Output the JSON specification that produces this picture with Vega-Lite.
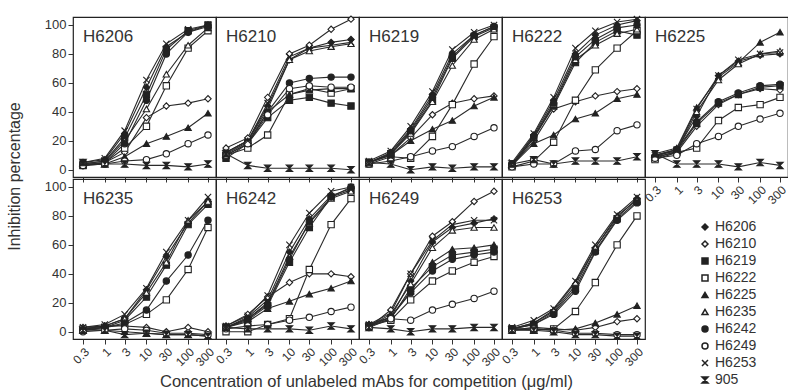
{
"$schema": "https://vega.github.io/schema/vega-lite/v6.json",
"padding": {"left": 5, "top": 13, "right": 0, "bottom": 2},
"data": {"values": [
{"p":"H6206","s":"H6206","c":0.3,"v":5},{"p":"H6206","s":"H6206","c":1,"v":7},{"p":"H6206","s":"H6206","c":3,"v":25},{"p":"H6206","s":"H6206","c":10,"v":57},{"p":"H6206","s":"H6206","c":30,"v":85},{"p":"H6206","s":"H6206","c":100,"v":95},{"p":"H6206","s":"H6206","c":300,"v":100},
{"p":"H6206","s":"H6210","c":0.3,"v":3},{"p":"H6206","s":"H6210","c":1,"v":5},{"p":"H6206","s":"H6210","c":3,"v":12},{"p":"H6206","s":"H6210","c":10,"v":36},{"p":"H6206","s":"H6210","c":30,"v":44},{"p":"H6206","s":"H6210","c":100,"v":46},{"p":"H6206","s":"H6210","c":300,"v":49},
{"p":"H6206","s":"H6219","c":0.3,"v":4},{"p":"H6206","s":"H6219","c":1,"v":6},{"p":"H6206","s":"H6219","c":3,"v":22},{"p":"H6206","s":"H6219","c":10,"v":52},{"p":"H6206","s":"H6219","c":30,"v":83},{"p":"H6206","s":"H6219","c":100,"v":96},{"p":"H6206","s":"H6219","c":300,"v":100},
{"p":"H6206","s":"H6222","c":0.3,"v":3},{"p":"H6206","s":"H6222","c":1,"v":5},{"p":"H6206","s":"H6222","c":3,"v":15},{"p":"H6206","s":"H6222","c":10,"v":30},{"p":"H6206","s":"H6222","c":30,"v":58},{"p":"H6206","s":"H6222","c":100,"v":84},{"p":"H6206","s":"H6222","c":300,"v":96},
{"p":"H6206","s":"H6225","c":0.3,"v":3},{"p":"H6206","s":"H6225","c":1,"v":4},{"p":"H6206","s":"H6225","c":3,"v":9},{"p":"H6206","s":"H6225","c":10,"v":18},{"p":"H6206","s":"H6225","c":30,"v":23},{"p":"H6206","s":"H6225","c":100,"v":29},{"p":"H6206","s":"H6225","c":300,"v":39},
{"p":"H6206","s":"H6235","c":0.3,"v":4},{"p":"H6206","s":"H6235","c":1,"v":6},{"p":"H6206","s":"H6235","c":3,"v":20},{"p":"H6206","s":"H6235","c":10,"v":42},{"p":"H6206","s":"H6235","c":30,"v":66},{"p":"H6206","s":"H6235","c":100,"v":86},{"p":"H6206","s":"H6235","c":300,"v":98},
{"p":"H6206","s":"H6242","c":0.3,"v":3},{"p":"H6206","s":"H6242","c":1,"v":5},{"p":"H6206","s":"H6242","c":3,"v":18},{"p":"H6206","s":"H6242","c":10,"v":48},{"p":"H6206","s":"H6242","c":30,"v":80},{"p":"H6206","s":"H6242","c":100,"v":95},{"p":"H6206","s":"H6242","c":300,"v":99},
{"p":"H6206","s":"H6249","c":0.3,"v":3},{"p":"H6206","s":"H6249","c":1,"v":4},{"p":"H6206","s":"H6249","c":3,"v":6},{"p":"H6206","s":"H6249","c":10,"v":7},{"p":"H6206","s":"H6249","c":30,"v":11},{"p":"H6206","s":"H6249","c":100,"v":18},{"p":"H6206","s":"H6249","c":300,"v":24},
{"p":"H6206","s":"H6253","c":0.3,"v":5},{"p":"H6206","s":"H6253","c":1,"v":8},{"p":"H6206","s":"H6253","c":3,"v":27},{"p":"H6206","s":"H6253","c":10,"v":62},{"p":"H6206","s":"H6253","c":30,"v":87},{"p":"H6206","s":"H6253","c":100,"v":97},{"p":"H6206","s":"H6253","c":300,"v":100},
{"p":"H6206","s":"905","c":0.3,"v":5},{"p":"H6206","s":"905","c":1,"v":4},{"p":"H6206","s":"905","c":3,"v":4},{"p":"H6206","s":"905","c":10,"v":3},{"p":"H6206","s":"905","c":30,"v":3},{"p":"H6206","s":"905","c":100,"v":2},{"p":"H6206","s":"905","c":300,"v":4},

{"p":"H6210","s":"H6206","c":0.3,"v":12},{"p":"H6210","s":"H6206","c":1,"v":20},{"p":"H6210","s":"H6206","c":3,"v":44},{"p":"H6210","s":"H6206","c":10,"v":76},{"p":"H6210","s":"H6206","c":30,"v":84},{"p":"H6210","s":"H6206","c":100,"v":88},{"p":"H6210","s":"H6206","c":300,"v":90},
{"p":"H6210","s":"H6210","c":0.3,"v":15},{"p":"H6210","s":"H6210","c":1,"v":22},{"p":"H6210","s":"H6210","c":3,"v":50},{"p":"H6210","s":"H6210","c":10,"v":80},{"p":"H6210","s":"H6210","c":30,"v":86},{"p":"H6210","s":"H6210","c":100,"v":97},{"p":"H6210","s":"H6210","c":300,"v":104},
{"p":"H6210","s":"H6219","c":0.3,"v":8},{"p":"H6210","s":"H6219","c":1,"v":18},{"p":"H6210","s":"H6219","c":3,"v":36},{"p":"H6210","s":"H6219","c":10,"v":48},{"p":"H6210","s":"H6219","c":30,"v":50},{"p":"H6210","s":"H6219","c":100,"v":46},{"p":"H6210","s":"H6219","c":300,"v":44},
{"p":"H6210","s":"H6222","c":0.3,"v":10},{"p":"H6210","s":"H6222","c":1,"v":15},{"p":"H6210","s":"H6222","c":3,"v":24},{"p":"H6210","s":"H6222","c":10,"v":52},{"p":"H6210","s":"H6222","c":30,"v":56},{"p":"H6210","s":"H6222","c":100,"v":53},{"p":"H6210","s":"H6222","c":300,"v":56},
{"p":"H6210","s":"H6225","c":0.3,"v":10},{"p":"H6210","s":"H6225","c":1,"v":18},{"p":"H6210","s":"H6225","c":3,"v":40},{"p":"H6210","s":"H6225","c":10,"v":52},{"p":"H6210","s":"H6225","c":30,"v":55},{"p":"H6210","s":"H6225","c":100,"v":56},{"p":"H6210","s":"H6225","c":300,"v":56},
{"p":"H6210","s":"H6235","c":0.3,"v":12},{"p":"H6210","s":"H6235","c":1,"v":20},{"p":"H6210","s":"H6235","c":3,"v":42},{"p":"H6210","s":"H6235","c":10,"v":76},{"p":"H6210","s":"H6235","c":30,"v":82},{"p":"H6210","s":"H6235","c":100,"v":85},{"p":"H6210","s":"H6235","c":300,"v":87},
{"p":"H6210","s":"H6242","c":0.3,"v":11},{"p":"H6210","s":"H6242","c":1,"v":19},{"p":"H6210","s":"H6242","c":3,"v":40},{"p":"H6210","s":"H6242","c":10,"v":60},{"p":"H6210","s":"H6242","c":30,"v":63},{"p":"H6210","s":"H6242","c":100,"v":64},{"p":"H6210","s":"H6242","c":300,"v":64},
{"p":"H6210","s":"H6249","c":0.3,"v":10},{"p":"H6210","s":"H6249","c":1,"v":18},{"p":"H6210","s":"H6249","c":3,"v":38},{"p":"H6210","s":"H6249","c":10,"v":56},{"p":"H6210","s":"H6249","c":30,"v":58},{"p":"H6210","s":"H6249","c":100,"v":57},{"p":"H6210","s":"H6249","c":300,"v":57},
{"p":"H6210","s":"H6253","c":0.3,"v":12},{"p":"H6210","s":"H6253","c":1,"v":20},{"p":"H6210","s":"H6253","c":3,"v":46},{"p":"H6210","s":"H6253","c":10,"v":78},{"p":"H6210","s":"H6253","c":30,"v":84},{"p":"H6210","s":"H6253","c":100,"v":86},{"p":"H6210","s":"H6253","c":300,"v":88},
{"p":"H6210","s":"905","c":0.3,"v":11},{"p":"H6210","s":"905","c":1,"v":3},{"p":"H6210","s":"905","c":3,"v":1},{"p":"H6210","s":"905","c":10,"v":1},{"p":"H6210","s":"905","c":30,"v":1},{"p":"H6210","s":"905","c":100,"v":1},{"p":"H6210","s":"905","c":300,"v":0},

{"p":"H6219","s":"H6206","c":0.3,"v":5},{"p":"H6219","s":"H6206","c":1,"v":12},{"p":"H6219","s":"H6206","c":3,"v":28},{"p":"H6219","s":"H6206","c":10,"v":52},{"p":"H6219","s":"H6206","c":30,"v":80},{"p":"H6219","s":"H6206","c":100,"v":93},{"p":"H6219","s":"H6206","c":300,"v":99},
{"p":"H6219","s":"H6210","c":0.3,"v":5},{"p":"H6219","s":"H6210","c":1,"v":10},{"p":"H6219","s":"H6210","c":3,"v":22},{"p":"H6219","s":"H6210","c":10,"v":38},{"p":"H6219","s":"H6210","c":30,"v":46},{"p":"H6219","s":"H6210","c":100,"v":49},{"p":"H6219","s":"H6210","c":300,"v":51},
{"p":"H6219","s":"H6219","c":0.3,"v":5},{"p":"H6219","s":"H6219","c":1,"v":11},{"p":"H6219","s":"H6219","c":3,"v":26},{"p":"H6219","s":"H6219","c":10,"v":48},{"p":"H6219","s":"H6219","c":30,"v":77},{"p":"H6219","s":"H6219","c":100,"v":92},{"p":"H6219","s":"H6219","c":300,"v":98},
{"p":"H6219","s":"H6222","c":0.3,"v":4},{"p":"H6219","s":"H6222","c":1,"v":9},{"p":"H6219","s":"H6222","c":3,"v":8},{"p":"H6219","s":"H6222","c":10,"v":23},{"p":"H6219","s":"H6222","c":30,"v":45},{"p":"H6219","s":"H6222","c":100,"v":73},{"p":"H6219","s":"H6222","c":300,"v":92},
{"p":"H6219","s":"H6225","c":0.3,"v":5},{"p":"H6219","s":"H6225","c":1,"v":10},{"p":"H6219","s":"H6225","c":3,"v":20},{"p":"H6219","s":"H6225","c":10,"v":28},{"p":"H6219","s":"H6225","c":30,"v":34},{"p":"H6219","s":"H6225","c":100,"v":44},{"p":"H6219","s":"H6225","c":300,"v":50},
{"p":"H6219","s":"H6235","c":0.3,"v":5},{"p":"H6219","s":"H6235","c":1,"v":11},{"p":"H6219","s":"H6235","c":3,"v":25},{"p":"H6219","s":"H6235","c":10,"v":47},{"p":"H6219","s":"H6235","c":30,"v":72},{"p":"H6219","s":"H6235","c":100,"v":90},{"p":"H6219","s":"H6235","c":300,"v":97},
{"p":"H6219","s":"H6242","c":0.3,"v":5},{"p":"H6219","s":"H6242","c":1,"v":11},{"p":"H6219","s":"H6242","c":3,"v":27},{"p":"H6219","s":"H6242","c":10,"v":50},{"p":"H6219","s":"H6242","c":30,"v":78},{"p":"H6219","s":"H6242","c":100,"v":93},{"p":"H6219","s":"H6242","c":300,"v":99},
{"p":"H6219","s":"H6249","c":0.3,"v":4},{"p":"H6219","s":"H6249","c":1,"v":6},{"p":"H6219","s":"H6249","c":3,"v":9},{"p":"H6219","s":"H6249","c":10,"v":13},{"p":"H6219","s":"H6249","c":30,"v":16},{"p":"H6219","s":"H6249","c":100,"v":23},{"p":"H6219","s":"H6249","c":300,"v":29},
{"p":"H6219","s":"H6253","c":0.3,"v":6},{"p":"H6219","s":"H6253","c":1,"v":13},{"p":"H6219","s":"H6253","c":3,"v":30},{"p":"H6219","s":"H6253","c":10,"v":54},{"p":"H6219","s":"H6253","c":30,"v":83},{"p":"H6219","s":"H6253","c":100,"v":95},{"p":"H6219","s":"H6253","c":300,"v":100},
{"p":"H6219","s":"905","c":0.3,"v":5},{"p":"H6219","s":"905","c":1,"v":4},{"p":"H6219","s":"905","c":3,"v":0},{"p":"H6219","s":"905","c":10,"v":2},{"p":"H6219","s":"905","c":30,"v":1},{"p":"H6219","s":"905","c":100,"v":2},{"p":"H6219","s":"905","c":300,"v":2},

{"p":"H6222","s":"H6206","c":0.3,"v":4},{"p":"H6222","s":"H6206","c":1,"v":24},{"p":"H6222","s":"H6206","c":3,"v":48},{"p":"H6222","s":"H6206","c":10,"v":80},{"p":"H6222","s":"H6206","c":30,"v":93},{"p":"H6222","s":"H6206","c":100,"v":100},{"p":"H6222","s":"H6206","c":300,"v":103},
{"p":"H6222","s":"H6210","c":0.3,"v":3},{"p":"H6222","s":"H6210","c":1,"v":20},{"p":"H6222","s":"H6210","c":3,"v":42},{"p":"H6222","s":"H6210","c":10,"v":47},{"p":"H6222","s":"H6210","c":30,"v":51},{"p":"H6222","s":"H6210","c":100,"v":54},{"p":"H6222","s":"H6210","c":300,"v":56},
{"p":"H6222","s":"H6219","c":0.3,"v":3},{"p":"H6222","s":"H6219","c":1,"v":22},{"p":"H6222","s":"H6219","c":3,"v":44},{"p":"H6222","s":"H6219","c":10,"v":74},{"p":"H6222","s":"H6219","c":30,"v":88},{"p":"H6222","s":"H6219","c":100,"v":96},{"p":"H6222","s":"H6219","c":300,"v":93},
{"p":"H6222","s":"H6222","c":0.3,"v":2},{"p":"H6222","s":"H6222","c":1,"v":6},{"p":"H6222","s":"H6222","c":3,"v":19},{"p":"H6222","s":"H6222","c":10,"v":48},{"p":"H6222","s":"H6222","c":30,"v":69},{"p":"H6222","s":"H6222","c":100,"v":84},{"p":"H6222","s":"H6222","c":300,"v":96},
{"p":"H6222","s":"H6225","c":0.3,"v":3},{"p":"H6222","s":"H6225","c":1,"v":18},{"p":"H6222","s":"H6225","c":3,"v":24},{"p":"H6222","s":"H6225","c":10,"v":35},{"p":"H6222","s":"H6225","c":30,"v":39},{"p":"H6222","s":"H6225","c":100,"v":49},{"p":"H6222","s":"H6225","c":300,"v":52},
{"p":"H6222","s":"H6235","c":0.3,"v":3},{"p":"H6222","s":"H6235","c":1,"v":22},{"p":"H6222","s":"H6235","c":3,"v":45},{"p":"H6222","s":"H6235","c":10,"v":76},{"p":"H6222","s":"H6235","c":30,"v":86},{"p":"H6222","s":"H6235","c":100,"v":94},{"p":"H6222","s":"H6235","c":300,"v":97},
{"p":"H6222","s":"H6242","c":0.3,"v":4},{"p":"H6222","s":"H6242","c":1,"v":23},{"p":"H6222","s":"H6242","c":3,"v":46},{"p":"H6222","s":"H6242","c":10,"v":78},{"p":"H6222","s":"H6242","c":30,"v":90},{"p":"H6222","s":"H6242","c":100,"v":98},{"p":"H6222","s":"H6242","c":300,"v":100},
{"p":"H6222","s":"H6249","c":0.3,"v":2},{"p":"H6222","s":"H6249","c":1,"v":4},{"p":"H6222","s":"H6249","c":3,"v":4},{"p":"H6222","s":"H6249","c":10,"v":13},{"p":"H6222","s":"H6249","c":30,"v":14},{"p":"H6222","s":"H6249","c":100,"v":27},{"p":"H6222","s":"H6249","c":300,"v":31},
{"p":"H6222","s":"H6253","c":0.3,"v":5},{"p":"H6222","s":"H6253","c":1,"v":25},{"p":"H6222","s":"H6253","c":3,"v":50},{"p":"H6222","s":"H6253","c":10,"v":84},{"p":"H6222","s":"H6253","c":30,"v":96},{"p":"H6222","s":"H6253","c":100,"v":102},{"p":"H6222","s":"H6253","c":300,"v":104},
{"p":"H6222","s":"905","c":0.3,"v":4},{"p":"H6222","s":"905","c":1,"v":7},{"p":"H6222","s":"905","c":3,"v":4},{"p":"H6222","s":"905","c":10,"v":6},{"p":"H6222","s":"905","c":30,"v":6},{"p":"H6222","s":"905","c":100,"v":6},{"p":"H6222","s":"905","c":300,"v":9},

{"p":"H6225","s":"H6206","c":0.3,"v":10},{"p":"H6225","s":"H6206","c":1,"v":14},{"p":"H6225","s":"H6206","c":3,"v":37},{"p":"H6225","s":"H6206","c":10,"v":65},{"p":"H6225","s":"H6206","c":30,"v":75},{"p":"H6225","s":"H6206","c":100,"v":79},{"p":"H6225","s":"H6206","c":300,"v":80},
{"p":"H6225","s":"H6210","c":0.3,"v":9},{"p":"H6225","s":"H6210","c":1,"v":12},{"p":"H6225","s":"H6210","c":3,"v":30},{"p":"H6225","s":"H6210","c":10,"v":45},{"p":"H6225","s":"H6210","c":30,"v":52},{"p":"H6225","s":"H6210","c":100,"v":56},{"p":"H6225","s":"H6210","c":300,"v":55},
{"p":"H6225","s":"H6219","c":0.3,"v":8},{"p":"H6225","s":"H6219","c":1,"v":13},{"p":"H6225","s":"H6219","c":3,"v":32},{"p":"H6225","s":"H6219","c":10,"v":46},{"p":"H6225","s":"H6219","c":30,"v":52},{"p":"H6225","s":"H6219","c":100,"v":57},{"p":"H6225","s":"H6219","c":300,"v":58},
{"p":"H6225","s":"H6222","c":0.3,"v":7},{"p":"H6225","s":"H6222","c":1,"v":12},{"p":"H6225","s":"H6222","c":3,"v":15},{"p":"H6225","s":"H6222","c":10,"v":34},{"p":"H6225","s":"H6222","c":30,"v":43},{"p":"H6225","s":"H6222","c":100,"v":45},{"p":"H6225","s":"H6222","c":300,"v":50},
{"p":"H6225","s":"H6225","c":0.3,"v":11},{"p":"H6225","s":"H6225","c":1,"v":15},{"p":"H6225","s":"H6225","c":3,"v":43},{"p":"H6225","s":"H6225","c":10,"v":64},{"p":"H6225","s":"H6225","c":30,"v":74},{"p":"H6225","s":"H6225","c":100,"v":88},{"p":"H6225","s":"H6225","c":300,"v":95},
{"p":"H6225","s":"H6235","c":0.3,"v":10},{"p":"H6225","s":"H6235","c":1,"v":13},{"p":"H6225","s":"H6235","c":3,"v":40},{"p":"H6225","s":"H6235","c":10,"v":62},{"p":"H6225","s":"H6235","c":30,"v":73},{"p":"H6225","s":"H6235","c":100,"v":80},{"p":"H6225","s":"H6235","c":300,"v":82},
{"p":"H6225","s":"H6242","c":0.3,"v":9},{"p":"H6225","s":"H6242","c":1,"v":14},{"p":"H6225","s":"H6242","c":3,"v":33},{"p":"H6225","s":"H6242","c":10,"v":47},{"p":"H6225","s":"H6242","c":30,"v":53},{"p":"H6225","s":"H6242","c":100,"v":58},{"p":"H6225","s":"H6242","c":300,"v":59},
{"p":"H6225","s":"H6249","c":0.3,"v":8},{"p":"H6225","s":"H6249","c":1,"v":10},{"p":"H6225","s":"H6249","c":3,"v":18},{"p":"H6225","s":"H6249","c":10,"v":23},{"p":"H6225","s":"H6249","c":30,"v":30},{"p":"H6225","s":"H6249","c":100,"v":35},{"p":"H6225","s":"H6249","c":300,"v":39},
{"p":"H6225","s":"H6253","c":0.3,"v":10},{"p":"H6225","s":"H6253","c":1,"v":14},{"p":"H6225","s":"H6253","c":3,"v":42},{"p":"H6225","s":"H6253","c":10,"v":65},{"p":"H6225","s":"H6253","c":30,"v":76},{"p":"H6225","s":"H6253","c":100,"v":80},{"p":"H6225","s":"H6253","c":300,"v":81},
{"p":"H6225","s":"905","c":0.3,"v":11},{"p":"H6225","s":"905","c":1,"v":4},{"p":"H6225","s":"905","c":3,"v":4},{"p":"H6225","s":"905","c":10,"v":4},{"p":"H6225","s":"905","c":30,"v":2},{"p":"H6225","s":"905","c":100,"v":5},{"p":"H6225","s":"905","c":300,"v":3},

{"p":"H6235","s":"H6206","c":0.3,"v":2},{"p":"H6235","s":"H6206","c":1,"v":4},{"p":"H6235","s":"H6206","c":3,"v":9},{"p":"H6235","s":"H6206","c":10,"v":29},{"p":"H6235","s":"H6206","c":30,"v":52},{"p":"H6235","s":"H6206","c":100,"v":75},{"p":"H6235","s":"H6206","c":300,"v":90},
{"p":"H6235","s":"H6210","c":0.3,"v":3},{"p":"H6235","s":"H6210","c":1,"v":4},{"p":"H6235","s":"H6210","c":3,"v":4},{"p":"H6235","s":"H6210","c":10,"v":3},{"p":"H6235","s":"H6210","c":30,"v":0},{"p":"H6235","s":"H6210","c":100,"v":3},{"p":"H6235","s":"H6210","c":300,"v":0},
{"p":"H6235","s":"H6219","c":0.3,"v":1},{"p":"H6235","s":"H6219","c":1,"v":3},{"p":"H6235","s":"H6219","c":3,"v":8},{"p":"H6235","s":"H6219","c":10,"v":24},{"p":"H6235","s":"H6219","c":30,"v":46},{"p":"H6235","s":"H6219","c":100,"v":74},{"p":"H6235","s":"H6219","c":300,"v":88},
{"p":"H6235","s":"H6222","c":0.3,"v":2},{"p":"H6235","s":"H6222","c":1,"v":3},{"p":"H6235","s":"H6222","c":3,"v":5},{"p":"H6235","s":"H6222","c":10,"v":12},{"p":"H6235","s":"H6222","c":30,"v":22},{"p":"H6235","s":"H6222","c":100,"v":43},{"p":"H6235","s":"H6222","c":300,"v":72},
{"p":"H6235","s":"H6225","c":0.3,"v":2},{"p":"H6235","s":"H6225","c":1,"v":1},{"p":"H6235","s":"H6225","c":3,"v":0},{"p":"H6235","s":"H6225","c":10,"v":-1},{"p":"H6235","s":"H6225","c":30,"v":-2},{"p":"H6235","s":"H6225","c":100,"v":-2},{"p":"H6235","s":"H6225","c":300,"v":-3},
{"p":"H6235","s":"H6235","c":0.3,"v":2},{"p":"H6235","s":"H6235","c":1,"v":4},{"p":"H6235","s":"H6235","c":3,"v":9},{"p":"H6235","s":"H6235","c":10,"v":27},{"p":"H6235","s":"H6235","c":30,"v":48},{"p":"H6235","s":"H6235","c":100,"v":77},{"p":"H6235","s":"H6235","c":300,"v":90},
{"p":"H6235","s":"H6242","c":0.3,"v":1},{"p":"H6235","s":"H6242","c":1,"v":3},{"p":"H6235","s":"H6242","c":3,"v":6},{"p":"H6235","s":"H6242","c":10,"v":15},{"p":"H6235","s":"H6242","c":30,"v":35},{"p":"H6235","s":"H6242","c":100,"v":53},{"p":"H6235","s":"H6242","c":300,"v":77},
{"p":"H6235","s":"H6249","c":0.3,"v":0},{"p":"H6235","s":"H6249","c":1,"v":1},{"p":"H6235","s":"H6249","c":3,"v":2},{"p":"H6235","s":"H6249","c":10,"v":1},{"p":"H6235","s":"H6249","c":30,"v":-1},{"p":"H6235","s":"H6249","c":100,"v":-1},{"p":"H6235","s":"H6249","c":300,"v":-2},
{"p":"H6235","s":"H6253","c":0.3,"v":3},{"p":"H6235","s":"H6253","c":1,"v":5},{"p":"H6235","s":"H6253","c":3,"v":12},{"p":"H6235","s":"H6253","c":10,"v":30},{"p":"H6235","s":"H6253","c":30,"v":55},{"p":"H6235","s":"H6253","c":100,"v":77},{"p":"H6235","s":"H6253","c":300,"v":93},
{"p":"H6235","s":"905","c":0.3,"v":1},{"p":"H6235","s":"905","c":1,"v":1},{"p":"H6235","s":"905","c":3,"v":-2},{"p":"H6235","s":"905","c":10,"v":-1},{"p":"H6235","s":"905","c":30,"v":-2},{"p":"H6235","s":"905","c":100,"v":-2},{"p":"H6235","s":"905","c":300,"v":-3},

{"p":"H6242","s":"H6206","c":0.3,"v":3},{"p":"H6242","s":"H6206","c":1,"v":10},{"p":"H6242","s":"H6206","c":3,"v":22},{"p":"H6242","s":"H6206","c":10,"v":55},{"p":"H6242","s":"H6206","c":30,"v":78},{"p":"H6242","s":"H6206","c":100,"v":94},{"p":"H6242","s":"H6206","c":300,"v":99},
{"p":"H6242","s":"H6210","c":0.3,"v":4},{"p":"H6242","s":"H6210","c":1,"v":12},{"p":"H6242","s":"H6210","c":3,"v":24},{"p":"H6242","s":"H6210","c":10,"v":34},{"p":"H6242","s":"H6210","c":30,"v":40},{"p":"H6242","s":"H6210","c":100,"v":40},{"p":"H6242","s":"H6210","c":300,"v":38},
{"p":"H6242","s":"H6219","c":0.3,"v":3},{"p":"H6242","s":"H6219","c":1,"v":8},{"p":"H6242","s":"H6219","c":3,"v":18},{"p":"H6242","s":"H6219","c":10,"v":48},{"p":"H6242","s":"H6219","c":30,"v":72},{"p":"H6242","s":"H6219","c":100,"v":93},{"p":"H6242","s":"H6219","c":300,"v":98},
{"p":"H6242","s":"H6222","c":0.3,"v":0},{"p":"H6242","s":"H6222","c":1,"v":0},{"p":"H6242","s":"H6222","c":3,"v":5},{"p":"H6242","s":"H6222","c":10,"v":9},{"p":"H6242","s":"H6222","c":30,"v":43},{"p":"H6242","s":"H6222","c":100,"v":74},{"p":"H6242","s":"H6222","c":300,"v":92},
{"p":"H6242","s":"H6225","c":0.3,"v":3},{"p":"H6242","s":"H6225","c":1,"v":7},{"p":"H6242","s":"H6225","c":3,"v":16},{"p":"H6242","s":"H6225","c":10,"v":21},{"p":"H6242","s":"H6225","c":30,"v":26},{"p":"H6242","s":"H6225","c":100,"v":30},{"p":"H6242","s":"H6225","c":300,"v":35},
{"p":"H6242","s":"H6235","c":0.3,"v":3},{"p":"H6242","s":"H6235","c":1,"v":9},{"p":"H6242","s":"H6235","c":3,"v":20},{"p":"H6242","s":"H6235","c":10,"v":52},{"p":"H6242","s":"H6235","c":30,"v":75},{"p":"H6242","s":"H6235","c":100,"v":92},{"p":"H6242","s":"H6235","c":300,"v":97},
{"p":"H6242","s":"H6242","c":0.3,"v":3},{"p":"H6242","s":"H6242","c":1,"v":9},{"p":"H6242","s":"H6242","c":3,"v":19},{"p":"H6242","s":"H6242","c":10,"v":50},{"p":"H6242","s":"H6242","c":30,"v":76},{"p":"H6242","s":"H6242","c":100,"v":93},{"p":"H6242","s":"H6242","c":300,"v":100},
{"p":"H6242","s":"H6249","c":0.3,"v":2},{"p":"H6242","s":"H6249","c":1,"v":4},{"p":"H6242","s":"H6249","c":3,"v":5},{"p":"H6242","s":"H6249","c":10,"v":8},{"p":"H6242","s":"H6249","c":30,"v":10},{"p":"H6242","s":"H6249","c":100,"v":14},{"p":"H6242","s":"H6249","c":300,"v":17},
{"p":"H6242","s":"H6253","c":0.3,"v":4},{"p":"H6242","s":"H6253","c":1,"v":11},{"p":"H6242","s":"H6253","c":3,"v":25},{"p":"H6242","s":"H6253","c":10,"v":60},{"p":"H6242","s":"H6253","c":30,"v":82},{"p":"H6242","s":"H6253","c":100,"v":97},{"p":"H6242","s":"H6253","c":300,"v":100},
{"p":"H6242","s":"905","c":0.3,"v":3},{"p":"H6242","s":"905","c":1,"v":2},{"p":"H6242","s":"905","c":3,"v":2},{"p":"H6242","s":"905","c":10,"v":2},{"p":"H6242","s":"905","c":30,"v":1},{"p":"H6242","s":"905","c":100,"v":4},{"p":"H6242","s":"905","c":300,"v":2},

{"p":"H6249","s":"H6206","c":0.3,"v":5},{"p":"H6249","s":"H6206","c":1,"v":10},{"p":"H6249","s":"H6206","c":3,"v":35},{"p":"H6249","s":"H6206","c":10,"v":62},{"p":"H6249","s":"H6206","c":30,"v":72},{"p":"H6249","s":"H6206","c":100,"v":75},{"p":"H6249","s":"H6206","c":300,"v":78},
{"p":"H6249","s":"H6210","c":0.3,"v":3},{"p":"H6249","s":"H6210","c":1,"v":15},{"p":"H6249","s":"H6210","c":3,"v":40},{"p":"H6249","s":"H6210","c":10,"v":66},{"p":"H6249","s":"H6210","c":30,"v":76},{"p":"H6249","s":"H6210","c":100,"v":90},{"p":"H6249","s":"H6210","c":300,"v":97},
{"p":"H6249","s":"H6219","c":0.3,"v":4},{"p":"H6249","s":"H6219","c":1,"v":9},{"p":"H6249","s":"H6219","c":3,"v":30},{"p":"H6249","s":"H6219","c":10,"v":45},{"p":"H6249","s":"H6219","c":30,"v":53},{"p":"H6249","s":"H6219","c":100,"v":55},{"p":"H6249","s":"H6219","c":300,"v":57},
{"p":"H6249","s":"H6222","c":0.3,"v":4},{"p":"H6249","s":"H6222","c":1,"v":8},{"p":"H6249","s":"H6222","c":3,"v":22},{"p":"H6249","s":"H6222","c":10,"v":35},{"p":"H6249","s":"H6222","c":30,"v":42},{"p":"H6249","s":"H6222","c":100,"v":48},{"p":"H6249","s":"H6222","c":300,"v":52},
{"p":"H6249","s":"H6225","c":0.3,"v":5},{"p":"H6249","s":"H6225","c":1,"v":10},{"p":"H6249","s":"H6225","c":3,"v":28},{"p":"H6249","s":"H6225","c":10,"v":48},{"p":"H6249","s":"H6225","c":30,"v":57},{"p":"H6249","s":"H6225","c":100,"v":58},{"p":"H6249","s":"H6225","c":300,"v":60},
{"p":"H6249","s":"H6235","c":0.3,"v":4},{"p":"H6249","s":"H6235","c":1,"v":12},{"p":"H6249","s":"H6235","c":3,"v":33},{"p":"H6249","s":"H6235","c":10,"v":58},{"p":"H6249","s":"H6235","c":30,"v":70},{"p":"H6249","s":"H6235","c":100,"v":72},{"p":"H6249","s":"H6235","c":300,"v":72},
{"p":"H6249","s":"H6242","c":0.3,"v":4},{"p":"H6249","s":"H6242","c":1,"v":10},{"p":"H6249","s":"H6242","c":3,"v":27},{"p":"H6249","s":"H6242","c":10,"v":42},{"p":"H6249","s":"H6242","c":30,"v":50},{"p":"H6249","s":"H6242","c":100,"v":53},{"p":"H6249","s":"H6242","c":300,"v":55},
{"p":"H6249","s":"H6249","c":0.3,"v":3},{"p":"H6249","s":"H6249","c":1,"v":9},{"p":"H6249","s":"H6249","c":3,"v":8},{"p":"H6249","s":"H6249","c":10,"v":15},{"p":"H6249","s":"H6249","c":30,"v":19},{"p":"H6249","s":"H6249","c":100,"v":23},{"p":"H6249","s":"H6249","c":300,"v":28},
{"p":"H6249","s":"H6253","c":0.3,"v":5},{"p":"H6249","s":"H6253","c":1,"v":13},{"p":"H6249","s":"H6253","c":3,"v":40},{"p":"H6249","s":"H6253","c":10,"v":63},{"p":"H6249","s":"H6253","c":30,"v":74},{"p":"H6249","s":"H6253","c":100,"v":77},{"p":"H6249","s":"H6253","c":300,"v":77},
{"p":"H6249","s":"905","c":0.3,"v":3},{"p":"H6249","s":"905","c":1,"v":2},{"p":"H6249","s":"905","c":3,"v":0},{"p":"H6249","s":"905","c":10,"v":2},{"p":"H6249","s":"905","c":30,"v":2},{"p":"H6249","s":"905","c":100,"v":3},{"p":"H6249","s":"905","c":300,"v":3},

{"p":"H6253","s":"H6206","c":0.3,"v":2},{"p":"H6253","s":"H6206","c":1,"v":6},{"p":"H6253","s":"H6206","c":3,"v":14},{"p":"H6253","s":"H6206","c":10,"v":32},{"p":"H6253","s":"H6206","c":30,"v":58},{"p":"H6253","s":"H6206","c":100,"v":79},{"p":"H6253","s":"H6206","c":300,"v":92},
{"p":"H6253","s":"H6210","c":0.3,"v":1},{"p":"H6253","s":"H6210","c":1,"v":3},{"p":"H6253","s":"H6210","c":3,"v":2},{"p":"H6253","s":"H6210","c":10,"v":1},{"p":"H6253","s":"H6210","c":30,"v":3},{"p":"H6253","s":"H6210","c":100,"v":7},{"p":"H6253","s":"H6210","c":300,"v":9},
{"p":"H6253","s":"H6219","c":0.3,"v":2},{"p":"H6253","s":"H6219","c":1,"v":5},{"p":"H6253","s":"H6219","c":3,"v":13},{"p":"H6253","s":"H6219","c":10,"v":30},{"p":"H6253","s":"H6219","c":30,"v":56},{"p":"H6253","s":"H6219","c":100,"v":78},{"p":"H6253","s":"H6219","c":300,"v":90},
{"p":"H6253","s":"H6222","c":0.3,"v":2},{"p":"H6253","s":"H6222","c":1,"v":1},{"p":"H6253","s":"H6222","c":3,"v":2},{"p":"H6253","s":"H6222","c":10,"v":14},{"p":"H6253","s":"H6222","c":30,"v":34},{"p":"H6253","s":"H6222","c":100,"v":60},{"p":"H6253","s":"H6222","c":300,"v":80},
{"p":"H6253","s":"H6225","c":0.3,"v":2},{"p":"H6253","s":"H6225","c":1,"v":2},{"p":"H6253","s":"H6225","c":3,"v":1},{"p":"H6253","s":"H6225","c":10,"v":2},{"p":"H6253","s":"H6225","c":30,"v":6},{"p":"H6253","s":"H6225","c":100,"v":12},{"p":"H6253","s":"H6225","c":300,"v":18},
{"p":"H6253","s":"H6235","c":0.3,"v":2},{"p":"H6253","s":"H6235","c":1,"v":6},{"p":"H6253","s":"H6235","c":3,"v":15},{"p":"H6253","s":"H6235","c":10,"v":34},{"p":"H6253","s":"H6235","c":30,"v":58},{"p":"H6253","s":"H6235","c":100,"v":80},{"p":"H6253","s":"H6235","c":300,"v":91},
{"p":"H6253","s":"H6242","c":0.3,"v":2},{"p":"H6253","s":"H6242","c":1,"v":5},{"p":"H6253","s":"H6242","c":3,"v":12},{"p":"H6253","s":"H6242","c":10,"v":28},{"p":"H6253","s":"H6242","c":30,"v":55},{"p":"H6253","s":"H6242","c":100,"v":77},{"p":"H6253","s":"H6242","c":300,"v":89},
{"p":"H6253","s":"H6249","c":0.3,"v":1},{"p":"H6253","s":"H6249","c":1,"v":2},{"p":"H6253","s":"H6249","c":3,"v":1},{"p":"H6253","s":"H6249","c":10,"v":-1},{"p":"H6253","s":"H6249","c":30,"v":-1},{"p":"H6253","s":"H6249","c":100,"v":-2},{"p":"H6253","s":"H6249","c":300,"v":-2},
{"p":"H6253","s":"H6253","c":0.3,"v":3},{"p":"H6253","s":"H6253","c":1,"v":8},{"p":"H6253","s":"H6253","c":3,"v":16},{"p":"H6253","s":"H6253","c":10,"v":35},{"p":"H6253","s":"H6253","c":30,"v":60},{"p":"H6253","s":"H6253","c":100,"v":81},{"p":"H6253","s":"H6253","c":300,"v":93},
{"p":"H6253","s":"905","c":0.3,"v":1},{"p":"H6253","s":"905","c":1,"v":1},{"p":"H6253","s":"905","c":3,"v":0},{"p":"H6253","s":"905","c":10,"v":-2},{"p":"H6253","s":"905","c":30,"v":-2},{"p":"H6253","s":"905","c":100,"v":-3},{"p":"H6253","s":"905","c":300,"v":-3}
]},
"columns": 5,
"spacing": {"row": 2, "column": 0},
"bounds": "flush",
"resolve": {"scale": {"x": "shared", "y": "shared", "shape": "shared", "fill": "shared"}},
"concat": [
 {"width": 143, "height": 160, "transform": [{"filter": "datum.p == 'H6206'"}],
  "encoding": {
    "x": {"field": "c", "type": "quantitative", "scale": {"type": "log", "domain": [0.1726, 467], "nice": false}, "axis": {"values": [0.3,1,3,10,30,100,300], "labels": false, "title": null}},
    "y": {"field": "v", "type": "quantitative", "scale": {"domain": [-5, 105.5], "nice": false, "zero": false}, "axis": {"values": [0,20,40,60,80,100], "title": "Inhibition percentage", "titleY": 159, "titlePadding": 22, "titleFontSize": 16}}},
  "layer": [
    {"mark": {"type": "line", "color": "#2a2a2a", "strokeWidth": 1.1}, "encoding": {"detail": {"field": "s"}}},
    {"mark": {"type": "point", "stroke": "#222", "strokeWidth": 1.1, "size": 40, "opacity": 1},
     "encoding": {
       "shape": {"field": "s", "type": "nominal", "title": null, "scale": {"domain": ["H6206","H6210","H6219","H6222","H6225","H6235","H6242","H6249","H6253","905"], "range": ["diamond","diamond","square","square","triangle-up","triangle-up","circle","circle","M-1,-1L1,1M-1,1L1,-1","M-1,-1L1,-1L-1,1L1,1Z"]},
         "legend": {"encode": {"symbols": {"update": {"stroke": {"value": "#222"}, "strokeWidth": {"value": 1}}}}}},
       "fill": {"field": "s", "type": "nominal", "title": null, "scale": {"domain": ["H6206","H6210","H6219","H6222","H6225","H6235","H6242","H6249","H6253","905"], "range": ["#222","white","#222","white","#222","white","#222","white","#222","#222"]},
         "legend": {"encode": {"symbols": {"update": {"stroke": {"value": "#222"}, "strokeWidth": {"value": 1}}}}}}}},
    {"transform": [{"filter": "datum.s == datum.p && datum.c == 0.3"}], "mark": {"type": "text", "align": "left", "baseline": "alphabetic", "fontSize": 17, "color": "#333"},
     "encoding": {"text": {"field": "p"}, "x": {"datum": 0.3}, "y": {"datum": 88}}}]},
 {"width": 143, "height": 160, "transform": [{"filter": "datum.p == 'H6210'"}],
  "encoding": {
    "x": {"field": "c", "type": "quantitative", "scale": {"type": "log", "domain": [0.1726, 467], "nice": false}, "axis": {"values": [0.3,1,3,10,30,100,300], "labels": false, "title": null}},
    "y": {"field": "v", "type": "quantitative", "scale": {"domain": [-5, 105.5], "nice": false, "zero": false}, "axis": null}},
  "layer": [
    {"mark": {"type": "line", "color": "#2a2a2a", "strokeWidth": 1.1}, "encoding": {"detail": {"field": "s"}}},
    {"mark": {"type": "point", "stroke": "#222", "strokeWidth": 1.1, "size": 40, "opacity": 1},
     "encoding": {"shape": {"field": "s", "type": "nominal", "title": null}, "fill": {"field": "s", "type": "nominal", "title": null}}},
    {"transform": [{"filter": "datum.s == datum.p && datum.c == 0.3"}], "mark": {"type": "text", "align": "left", "baseline": "alphabetic", "fontSize": 17, "color": "#333"},
     "encoding": {"text": {"field": "p"}, "x": {"datum": 0.3}, "y": {"datum": 88}}}]},
 {"width": 143, "height": 160, "transform": [{"filter": "datum.p == 'H6219'"}],
  "encoding": {
    "x": {"field": "c", "type": "quantitative", "scale": {"type": "log", "domain": [0.1726, 467], "nice": false}, "axis": {"values": [0.3,1,3,10,30,100,300], "labels": false, "title": null}},
    "y": {"field": "v", "type": "quantitative", "scale": {"domain": [-5, 105.5], "nice": false, "zero": false}, "axis": null}},
  "layer": [
    {"mark": {"type": "line", "color": "#2a2a2a", "strokeWidth": 1.1}, "encoding": {"detail": {"field": "s"}}},
    {"mark": {"type": "point", "stroke": "#222", "strokeWidth": 1.1, "size": 40, "opacity": 1},
     "encoding": {"shape": {"field": "s", "type": "nominal", "title": null}, "fill": {"field": "s", "type": "nominal", "title": null}}},
    {"transform": [{"filter": "datum.s == datum.p && datum.c == 0.3"}], "mark": {"type": "text", "align": "left", "baseline": "alphabetic", "fontSize": 17, "color": "#333"},
     "encoding": {"text": {"field": "p"}, "x": {"datum": 0.3}, "y": {"datum": 88}}}]},
 {"width": 143, "height": 160, "transform": [{"filter": "datum.p == 'H6222'"}],
  "encoding": {
    "x": {"field": "c", "type": "quantitative", "scale": {"type": "log", "domain": [0.1726, 467], "nice": false}, "axis": {"values": [0.3,1,3,10,30,100,300], "labels": false, "title": null}},
    "y": {"field": "v", "type": "quantitative", "scale": {"domain": [-5, 105.5], "nice": false, "zero": false}, "axis": null}},
  "layer": [
    {"mark": {"type": "line", "color": "#2a2a2a", "strokeWidth": 1.1}, "encoding": {"detail": {"field": "s"}}},
    {"mark": {"type": "point", "stroke": "#222", "strokeWidth": 1.1, "size": 40, "opacity": 1},
     "encoding": {"shape": {"field": "s", "type": "nominal", "title": null}, "fill": {"field": "s", "type": "nominal", "title": null}}},
    {"transform": [{"filter": "datum.s == datum.p && datum.c == 0.3"}], "mark": {"type": "text", "align": "left", "baseline": "alphabetic", "fontSize": 17, "color": "#333"},
     "encoding": {"text": {"field": "p"}, "x": {"datum": 0.3}, "y": {"datum": 88}}}]},
 {"width": 143, "height": 160, "transform": [{"filter": "datum.p == 'H6225'"}],
  "encoding": {
    "x": {"field": "c", "type": "quantitative", "scale": {"type": "log", "domain": [0.1726, 467], "nice": false}, "axis": {"values": [0.3,1,3,10,30,100,300], "title": null}},
    "y": {"field": "v", "type": "quantitative", "scale": {"domain": [-5, 105.5], "nice": false, "zero": false}, "axis": null}},
  "layer": [
    {"mark": {"type": "line", "color": "#2a2a2a", "strokeWidth": 1.1}, "encoding": {"detail": {"field": "s"}}},
    {"mark": {"type": "point", "stroke": "#222", "strokeWidth": 1.1, "size": 40, "opacity": 1},
     "encoding": {"shape": {"field": "s", "type": "nominal", "title": null}, "fill": {"field": "s", "type": "nominal", "title": null}}},
    {"transform": [{"filter": "datum.s == datum.p && datum.c == 0.3"}], "mark": {"type": "text", "align": "left", "baseline": "alphabetic", "fontSize": 17, "color": "#333"},
     "encoding": {"text": {"field": "p"}, "x": {"datum": 0.3}, "y": {"datum": 88}}}]},
 {"width": 143, "height": 160, "transform": [{"filter": "datum.p == 'H6235'"}],
  "encoding": {
    "x": {"field": "c", "type": "quantitative", "scale": {"type": "log", "domain": [0.1726, 467], "nice": false}, "axis": {"values": [0.3,1,3,10,30,100,300], "title": null}},
    "y": {"field": "v", "type": "quantitative", "scale": {"domain": [-5, 105.5], "nice": false, "zero": false}, "axis": {"values": [0,20,40,60,80,100], "title": null}}},
  "layer": [
    {"mark": {"type": "line", "color": "#2a2a2a", "strokeWidth": 1.1}, "encoding": {"detail": {"field": "s"}}},
    {"mark": {"type": "point", "stroke": "#222", "strokeWidth": 1.1, "size": 40, "opacity": 1},
     "encoding": {"shape": {"field": "s", "type": "nominal", "title": null}, "fill": {"field": "s", "type": "nominal", "title": null}}},
    {"transform": [{"filter": "datum.s == datum.p && datum.c == 0.3"}], "mark": {"type": "text", "align": "left", "baseline": "alphabetic", "fontSize": 17, "color": "#333"},
     "encoding": {"text": {"field": "p"}, "x": {"datum": 0.3}, "y": {"datum": 88}}}]},
 {"width": 143, "height": 160, "transform": [{"filter": "datum.p == 'H6242'"}],
  "encoding": {
    "x": {"field": "c", "type": "quantitative", "scale": {"type": "log", "domain": [0.1726, 467], "nice": false}, "axis": {"values": [0.3,1,3,10,30,100,300], "title": "Concentration of unlabeled mAbs for competition (μg/ml)", "titleX": 150, "titlePadding": 6, "titleFontSize": 16.5}},
    "y": {"field": "v", "type": "quantitative", "scale": {"domain": [-5, 105.5], "nice": false, "zero": false}, "axis": null}},
  "layer": [
    {"mark": {"type": "line", "color": "#2a2a2a", "strokeWidth": 1.1}, "encoding": {"detail": {"field": "s"}}},
    {"mark": {"type": "point", "stroke": "#222", "strokeWidth": 1.1, "size": 40, "opacity": 1},
     "encoding": {"shape": {"field": "s", "type": "nominal", "title": null}, "fill": {"field": "s", "type": "nominal", "title": null}}},
    {"transform": [{"filter": "datum.s == datum.p && datum.c == 0.3"}], "mark": {"type": "text", "align": "left", "baseline": "alphabetic", "fontSize": 17, "color": "#333"},
     "encoding": {"text": {"field": "p"}, "x": {"datum": 0.3}, "y": {"datum": 88}}}]},
 {"width": 143, "height": 160, "transform": [{"filter": "datum.p == 'H6249'"}],
  "encoding": {
    "x": {"field": "c", "type": "quantitative", "scale": {"type": "log", "domain": [0.1726, 467], "nice": false}, "axis": {"values": [0.3,1,3,10,30,100,300], "title": null}},
    "y": {"field": "v", "type": "quantitative", "scale": {"domain": [-5, 105.5], "nice": false, "zero": false}, "axis": null}},
  "layer": [
    {"mark": {"type": "line", "color": "#2a2a2a", "strokeWidth": 1.1}, "encoding": {"detail": {"field": "s"}}},
    {"mark": {"type": "point", "stroke": "#222", "strokeWidth": 1.1, "size": 40, "opacity": 1},
     "encoding": {"shape": {"field": "s", "type": "nominal", "title": null}, "fill": {"field": "s", "type": "nominal", "title": null}}},
    {"transform": [{"filter": "datum.s == datum.p && datum.c == 0.3"}], "mark": {"type": "text", "align": "left", "baseline": "alphabetic", "fontSize": 17, "color": "#333"},
     "encoding": {"text": {"field": "p"}, "x": {"datum": 0.3}, "y": {"datum": 88}}}]},
 {"width": 143, "height": 160, "transform": [{"filter": "datum.p == 'H6253'"}],
  "encoding": {
    "x": {"field": "c", "type": "quantitative", "scale": {"type": "log", "domain": [0.1726, 467], "nice": false}, "axis": {"values": [0.3,1,3,10,30,100,300], "title": null}},
    "y": {"field": "v", "type": "quantitative", "scale": {"domain": [-5, 105.5], "nice": false, "zero": false}, "axis": null}},
  "layer": [
    {"mark": {"type": "line", "color": "#2a2a2a", "strokeWidth": 1.1}, "encoding": {"detail": {"field": "s"}}},
    {"mark": {"type": "point", "stroke": "#222", "strokeWidth": 1.1, "size": 40, "opacity": 1},
     "encoding": {"shape": {"field": "s", "type": "nominal", "title": null}, "fill": {"field": "s", "type": "nominal", "title": null}}},
    {"transform": [{"filter": "datum.s == datum.p && datum.c == 0.3"}], "mark": {"type": "text", "align": "left", "baseline": "alphabetic", "fontSize": 17, "color": "#333"},
     "encoding": {"text": {"field": "p"}, "x": {"datum": 0.3}, "y": {"datum": 88}}}]}
],
"config": {
  "font": "Liberation Sans",
  "view": {"stroke": "#222", "strokeWidth": 1.2},
  "axis": {"grid": false, "domain": false, "tickSize": 5, "tickColor": "#333", "labelColor": "#333", "labelFlush": false, "labelOverlap": false, "titleFontSize": 15, "titleFontWeight": "normal", "titleColor": "#333"},
  "axisX": {"format": "~g", "labelAngle": -45, "labelFontSize": 12},
  "axisY": {"labelFontSize": 13},
  "legend": {"orient": "none", "legendX": 625, "legendY": 203, "labelFontSize": 14, "labelColor": "#333", "symbolSize": 36, "rowPadding": 3, "labelOffset": 3}
}
}
